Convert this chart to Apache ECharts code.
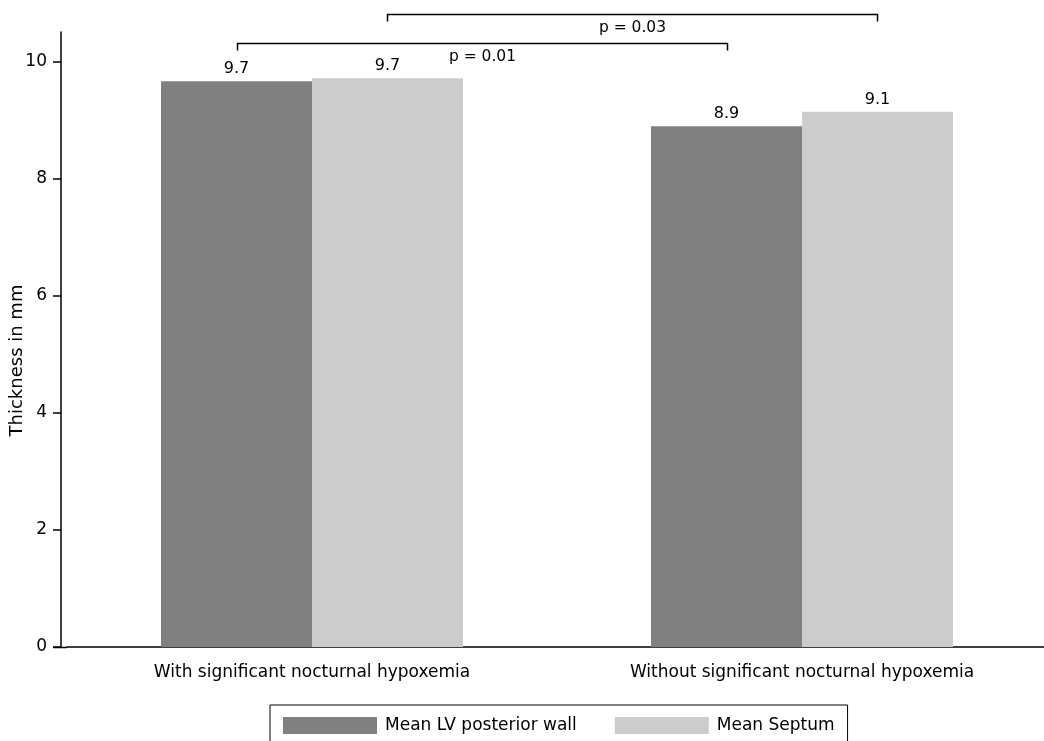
<!DOCTYPE html>
<html>
<head>
<meta charset="utf-8">
<script src="https://cdn.jsdelivr.net/npm/echarts@6/dist/echarts.min.js"></script>
<style>html,body{margin:0;padding:0;background:#fff;}#c{width:1044px;height:741px;}</style>
</head>
<body>
<div id="c"></div>
<script>
const categories = ['With significant nocturnal hypoxemia', 'Without significant nocturnal hypoxemia'];
const seriesNames = ['Mean LV posterior wall', 'Mean Septum'];
const lvWall = [9.66, 8.89];
const septum = [9.71, 9.14];
const yTicks = [0, 2, 4, 6, 8, 10];
// significance brackets: [fromCategory, toCategory, seriesIndex, level, label]
const brackets = [
  [0, 1, 0, 10.32, 'p = 0.01'],
  [0, 1, 1, 10.80, 'p = 0.03']
];

const FONT = 'DejaVu Sans';
const GAP = 0.3837;
const chart = echarts.init(document.getElementById('c'));

function renderBracket(params, api) {
  const from = api.value(0), to = api.value(1), s = api.value(2), level = api.value(3);
  const label = brackets[params.dataIndex][4];
  const band = api.size([1, 0])[0];
  const bw = band * (1 - GAP) / 2;
  const off = s === 0 ? -bw / 2 : bw / 2;
  const p1 = api.coord([from, level]);
  const p2 = api.coord([to, level]);
  const x1 = Math.round(p1[0] + off) + 0.5, x2 = Math.round(p2[0] + off) + 0.5;
  const y = Math.round(p1[1]) + 0.5;
  const drop = 7;
  return {
    type: 'group',
    children: [
      { type: 'polyline', shape: { points: [[x1, y + drop], [x1, y], [x2, y], [x2, y + drop]] },
        style: { stroke: '#000', lineWidth: 1.5, fill: null } },
      { type: 'text', x: (x1 + x2) / 2, y: y + 5,
        style: { text: label, fill: '#000', font: '15.5px "' + FONT + '"', align: 'center', verticalAlign: 'top' } }
    ]
  };
}

chart.setOption({
  animation: false,
  backgroundColor: '#fff',
  textStyle: { fontFamily: FONT, color: '#000' },
  grid: { left: 67, right: -3, top: 32, bottom: 94, containLabel: false, outerBoundsMode: 'none' },
  legend: {
    data: seriesNames,
    left: 270, top: 705,
    padding: [12, 13, 12, 13],
    itemWidth: 94, itemHeight: 17, itemGap: 38,
    icon: 'rect',
    borderColor: '#000', borderWidth: 1, borderRadius: 0,
    textStyle: { fontFamily: FONT, fontSize: 17, color: '#000', padding: [0, 0, 0, 3] }
  },
  xAxis: {
    type: 'category',
    data: categories,
    axisLine: { lineStyle: { color: '#000', width: 1.5 } },
    axisTick: { show: false },
    axisLabel: { fontFamily: FONT, fontSize: 17, color: '#000', margin: 17 }
  },
  yAxis: {
    type: 'value',
    min: 0, max: 10.5,
    offset: 6,
    name: 'Thickness in mm',
    nameLocation: 'middle',
    nameGap: 35,
    nameMoveOverlap: false,
    nameTextStyle: { fontFamily: FONT, fontSize: 18, color: '#000', padding: [0, 42, 0, 0] },
    splitLine: { show: false },
    axisLine: { show: true, lineStyle: { color: '#000', width: 1.5 } },
    axisTick: { show: true, length: 8, lineStyle: { color: '#000', width: 1.5 }, customValues: yTicks },
    axisLabel: { fontFamily: FONT, fontSize: 17, color: '#000', margin: 14, customValues: yTicks }
  },
  series: [
    {
      name: seriesNames[0], type: 'bar', data: lvWall,
      barGap: '0%', barCategoryGap: (GAP * 100) + '%',
      itemStyle: { color: '#808080' },
      label: { show: true, position: 'top', distance: 4, fontFamily: FONT, fontSize: 16, color: '#000',
               formatter: p => p.value.toFixed(1) }
    },
    {
      name: seriesNames[1], type: 'bar', data: septum,
      barGap: '0%', barCategoryGap: (GAP * 100) + '%',
      itemStyle: { color: '#cccccc' },
      label: { show: true, position: 'top', distance: 4, fontFamily: FONT, fontSize: 16, color: '#000',
               formatter: p => p.value.toFixed(1) }
    },
    {
      name: 'brackets', type: 'custom', clip: false, silent: true,
      renderItem: renderBracket,
      encode: { x: 0, y: 3 },
      data: brackets.map(b => [b[0], b[1], b[2], b[3]]),
      z: 10
    }
  ]
});

// extend the x axis baseline under the offset y axis (through library pixel conversion)
const p0 = chart.convertToPixel({ gridIndex: 0 }, [0, 0]);
const gridRect = chart.getModel().getComponent('grid').coordinateSystem.getRect();
chart.setOption({
  graphic: [{
    type: 'line', silent: true,
    shape: { x1: gridRect.x - 14, y1: Math.round(p0[1]) + 0.5, x2: gridRect.x, y2: Math.round(p0[1]) + 0.5 },
    style: { stroke: '#000', lineWidth: 1.5 }
  }]
});
</script>
</body>
</html>
